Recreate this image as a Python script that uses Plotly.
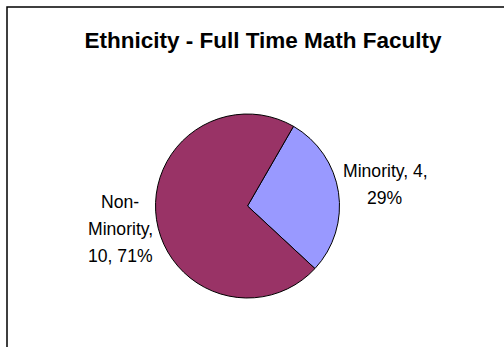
import plotly.graph_objects as go

# Full-time math faculty by ethnicity
categories = ["Minority", "Non-Minority"]
counts = [4, 10]
slice_colors = ["#9999FF", "#993366"]
title_text = "Ethnicity - Full Time Math Faculty"

total = sum(counts)


def slice_label_lines(name, value):
    pct = round(100 * value / total)
    if "-" in name:
        # wrap hyphenated names after the hyphen, value on its own line
        head, tail = name.split("-", 1)
        return [head + "-", tail + ",", f"{value}, {pct}%"]
    return [f"{name}, {value},", f"{pct}%"]


W, H = 504, 347
cx, cy, r = 247.5, 206, 92
FONT = "Liberation Sans, Arial, sans-serif"

fig = go.Figure(
    go.Pie(
        labels=categories,
        values=counts,
        textinfo="none",
        sort=False,
        direction="clockwise",
        rotation=30,
        marker=dict(colors=slice_colors, line=dict(color="black", width=1)),
        hoverinfo="label+value+percent",
        domain=dict(
            x=[(cx - r) / W, (cx + r) / W],
            y=[(H - cy - r) / H, (H - cy + r) / H],
        ),
    )
)

# outside data labels: centre x and first-line y (pixels from top) per slice
label_anchor = {"Minority": (385, 171), "Non-Minority": (120, 202)}
line_step = 27

annotations = []
for name, value in zip(categories, counts):
    ax, ay = label_anchor[name]
    for i, line in enumerate(slice_label_lines(name, value)):
        annotations.append(
            dict(
                text=line,
                xref="paper",
                yref="paper",
                x=ax / W,
                y=1 - (ay + i * line_step) / H,
                xanchor="center",
                yanchor="middle",
                showarrow=False,
                font=dict(family=FONT, size=17.6, color="black"),
            )
        )

fig.update_layout(
    width=W,
    height=H,
    margin=dict(l=0, r=0, t=0, b=0),
    paper_bgcolor="white",
    showlegend=False,
    title=dict(
        text=f"<b>{title_text}</b>",
        x=263 / W,
        xanchor="center",
        y=1 - 40 / H,
        yanchor="middle",
        font=dict(family=FONT, size=22.5, color="black"),
    ),
    annotations=annotations,
    shapes=[
        dict(
            type="rect",
            xref="paper",
            yref="paper",
            x0=7 / W,
            x1=1.05,
            y0=-0.05,
            y1=1 - 7 / H,
            line=dict(color="black", width=1.5),
            fillcolor="rgba(0,0,0,0)",
            layer="below",
        )
    ],
)

fig.write_html("out.html")
